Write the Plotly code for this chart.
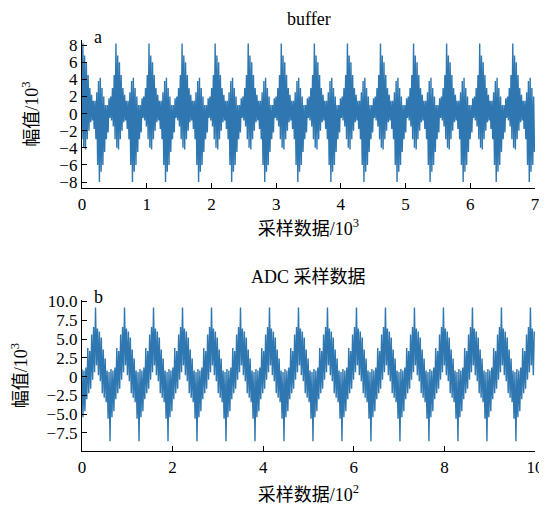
import plotly.graph_objects as go

# ---- data (amplitudes in 10^3) ----
# panel a "buffer": one period (~511 samples) of the waveform, starting at the +8 burst
buffer_period = [8.2, -4.0, 6.8, -4.2, 6.0, -3.0, 4.5, -2.0, 3.0, -1.0,
                 2.2, -0.8, 1.5, -1.8, 1.5, -3.0, 2.5, -6.0, 3.8, -8.0,
                 4.2, -6.8, 3.0, -6.0, 2.0, -4.5, 1.0, -3.0, 1.0, -2.2,
                 1.8, -0.5, 2.0, -0.8, 3.0, -1.5, 4.5, -3.0]
buffer_period_samples = 511
buffer_total_samples = 7000
buffer_start_index = 37

# panel b "ADC 采样数据": one period (~64 samples), starting at the +9.2 peak
adc_period = [9.2, 1.5, 6.4, 0.2, 6.0, -0.6, 5.2, -2.2, 3.6, -2.8,
              2.4, -3.4, 0.8, -5.6, 0.6, -8.6, 1.0, -5.4, 0.8, -4.6,
              1.2, -3.0, 3.8, -2.2, 3.4, -1.6, 5.6, -0.4, 6.6, 0.6]
adc_period_samples = 64
adc_total_samples = 1000
adc_start_index = 16

a_xticks = [0, 1, 2, 3, 4, 5, 6, 7]
a_yticks = [-8, -6, -4, -2, 0, 2, 4, 6, 8]
a_yticktext = ["\u22128", "\u22126", "\u22124", "\u22122", "0", "2", "4", "6", "8"]
b_xticks = [0, 2, 4, 6, 8, 10]
b_yticks = [-7.5, -5.0, -2.5, 0, 2.5, 5.0, 7.5, 10.0]
b_yticktext = ["\u22127.5", "\u22125.0", "\u22122.5", "0", "2.5", "5.0", "7.5", "10.0"]


def build_series(period, period_samples, total_samples, start, unit):
    step = period_samples / len(period)
    n = int(total_samples / step) + 1
    xs, ys = [], []
    for i in range(n):
        xs.append(i * step / unit)
        ys.append(period[(start + i) % len(period)])
    return xs, ys


ax, ay = build_series(buffer_period, buffer_period_samples, buffer_total_samples,
                      buffer_start_index, 1000)
bx, by = build_series(adc_period, adc_period_samples, adc_total_samples,
                      adc_start_index, 100)

LINE = "#2f77b1"
FONT = "Liberation Serif, Times New Roman, Noto Sans CJK SC, serif"
FS = 17

fig = go.Figure()
fig.add_trace(go.Scatter(x=ax, y=ay, mode="lines", line=dict(color=LINE, width=1.4),
                         xaxis="x", yaxis="y", showlegend=False, hoverinfo="skip"))
fig.add_trace(go.Scatter(x=bx, y=by, mode="lines", line=dict(color=LINE, width=1.4),
                         xaxis="x2", yaxis="y2", showlegend=False, hoverinfo="skip"))

axis_common = dict(showline=True, linecolor="black", linewidth=1.3, ticks="inside",
                   ticklen=5, tickwidth=1.2, tickcolor="black", showgrid=False,
                   zeroline=False, mirror=False, automargin=False,
                   tickfont=dict(family=FONT, size=FS, color="black"))
title_font = dict(family=FONT, size=18, color="black")

# the page body adds an 8 px offset, so the figure is 8 px smaller on each side
fig.update_layout(
    width=539, height=499,
    margin=dict(l=74, r=12, t=32, b=56),
    paper_bgcolor="white", plot_bgcolor="white",
    font=dict(family=FONT, size=18, color="black"),
    xaxis=dict(domain=[0, 1], anchor="y", range=[0, 7], tickvals=a_xticks,
               title=dict(text="采样数据/10<sup>3</sup>", standoff=9, font=title_font),
               **axis_common),
    yaxis=dict(domain=[0.6399, 1], anchor="x", range=[-8.7, 8.6],
               tickvals=a_yticks, ticktext=a_yticktext,
               title=dict(text="幅值/10<sup>3</sup>", standoff=16, font=title_font),
               **axis_common),
    xaxis2=dict(domain=[0, 1], anchor="y2", range=[0, 10], tickvals=b_xticks,
                title=dict(text="采样数据/10<sup>2</sup>", standoff=12, font=title_font),
                **axis_common),
    yaxis2=dict(domain=[0, 0.3674], anchor="x2", range=[-9.9, 10.2],
                tickvals=b_yticks, ticktext=b_yticktext,
                title=dict(text="幅值/10<sup>3</sup>", standoff=19, font=title_font),
                **axis_common),
)

# subplot titles and panel letters
fig.add_annotation(text="buffer", xref="x domain", yref="y domain", x=0.5, y=1.142,
                   showarrow=False, font=title_font, yanchor="middle")
fig.add_annotation(text="ADC 采样数据", xref="x2 domain", yref="y2 domain", x=0.5, y=1.15,
                   showarrow=False, font=title_font, yanchor="middle")
fig.add_annotation(text="a", xref="x domain", yref="y domain", x=0.022, y=1.02,
                   showarrow=False, font=title_font, yanchor="middle")
fig.add_annotation(text="b", xref="x2 domain", yref="y2 domain", x=0.022, y=1.02,
                   showarrow=False, font=title_font, yanchor="middle")

fig.write_html("out.html")
